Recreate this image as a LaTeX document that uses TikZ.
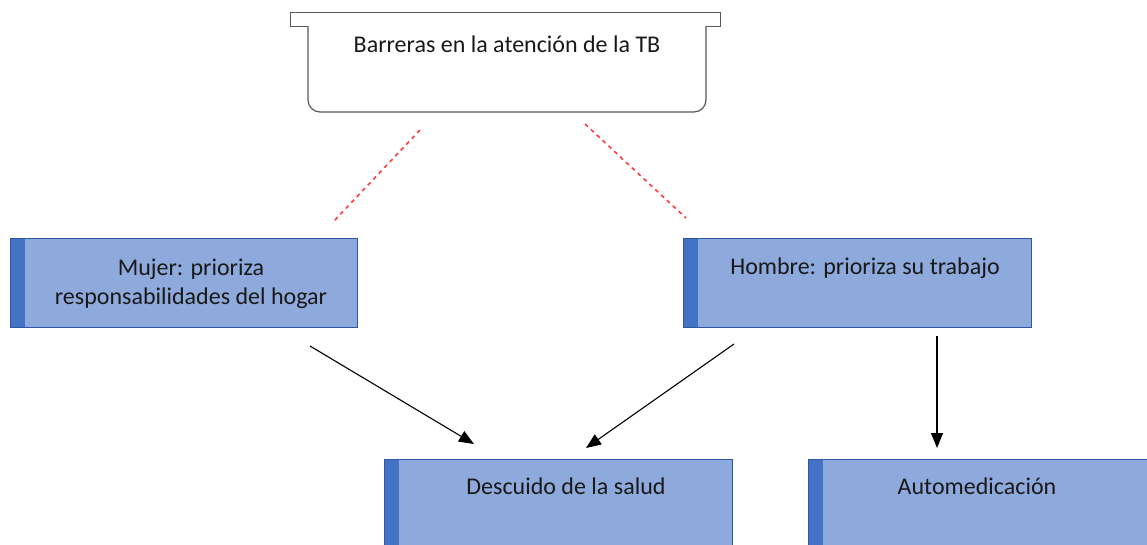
\documentclass[tikz,border=0pt]{standalone}
\usepackage{fontspec}
\setmainfont{Carlito}
\usetikzlibrary{arrows.meta,calc}
\definecolor{boxfill}{HTML}{8EA9DB}
\definecolor{boxstrip}{HTML}{4472C4}
\definecolor{boxline}{HTML}{2F55A4}
\definecolor{dashred}{HTML}{FF3B3B}
\tikzset{
  bluebox/.style={draw=boxline, line width=0.8pt, fill=boxfill, rectangle, inner sep=0pt, anchor=north west},
  lbl/.style={font=\fontsize{24}{29}\selectfont, text=black!90, align=center, inner sep=0pt, anchor=base},
  arr/.style={-{Triangle[length=15pt,width=12pt]}, line width=1.1pt, black},
  dashlink/.style={draw=dashred, line width=1.6pt, dash pattern=on 4pt off 4pt},
}
\begin{document}
\begin{tikzpicture}[x=1pt,y=-1pt]
\useasboundingbox (0,0) rectangle (1147,544);
\clip (0,0) rectangle (1147,544);
% top tray
\node[draw=black!65, line width=1.3pt, fill=white, rectangle, inner sep=0pt, minimum width=430pt, minimum height=14pt, anchor=north west] (bar) at (290,12) {};
\draw[black!65, line width=1.2pt, fill=white] (308,26) -- (308,100) arc[start angle=180,end angle=90,radius=12] -- (694,112) arc[start angle=90,end angle=0,radius=12] -- (706,26);
\coordinate (tray) at (507,26);
\node[lbl] (title) at (507,52) {Barreras en la atención de la TB};
% boxes
\node[bluebox, minimum width=347pt, minimum height=89pt] (mujer) at (10,238) {};
\node[bluebox, minimum width=348pt, minimum height=89pt] (hombre) at (683,238) {};
\node[bluebox, minimum width=348pt, minimum height=100pt] (descuido) at (384,459) {};
\node[bluebox, minimum width=360pt, minimum height=100pt] (auto) at (808,459) {};
\foreach \b in {mujer,hombre,descuido,auto}{
  \fill[boxstrip] (\b.north west) rectangle ($(\b.south west)+(15,0)$);
  \draw[boxline, line width=0.8pt] (\b.north west) rectangle (\b.south east);
}
\node[lbl] (tm) at (191,304) {Mujer: prioriza\\responsabilidades del hogar};
\node[lbl] (th) at (865,274) {Hombre: prioriza su trabajo};
\node[lbl] (td) at (566,494) {Descuido de la salud};
\node[lbl] (ta) at (977,494) {Automedicación};
% dashed links
\coordinate (d1a) at (420,130); \coordinate (d1b) at (334,221);
\coordinate (d2a) at (585,124); \coordinate (d2b) at (686,218);
\draw[dashlink] (d1a) -- (d1b);
\draw[dashlink] (d2a) -- (d2b);
% arrows
\coordinate (a1s) at (310,346); \coordinate (a1e) at (474,444);
\coordinate (a2s) at (734,344); \coordinate (a2e) at (586,448);
\coordinate (a3s) at (937,336); \coordinate (a3e) at (937,448);
\draw[arr] (a1s) -- (a1e);
\draw[arr] (a2s) -- (a2e);
\draw[arr] (a3s) -- (a3e);
\end{tikzpicture}
\end{document}
